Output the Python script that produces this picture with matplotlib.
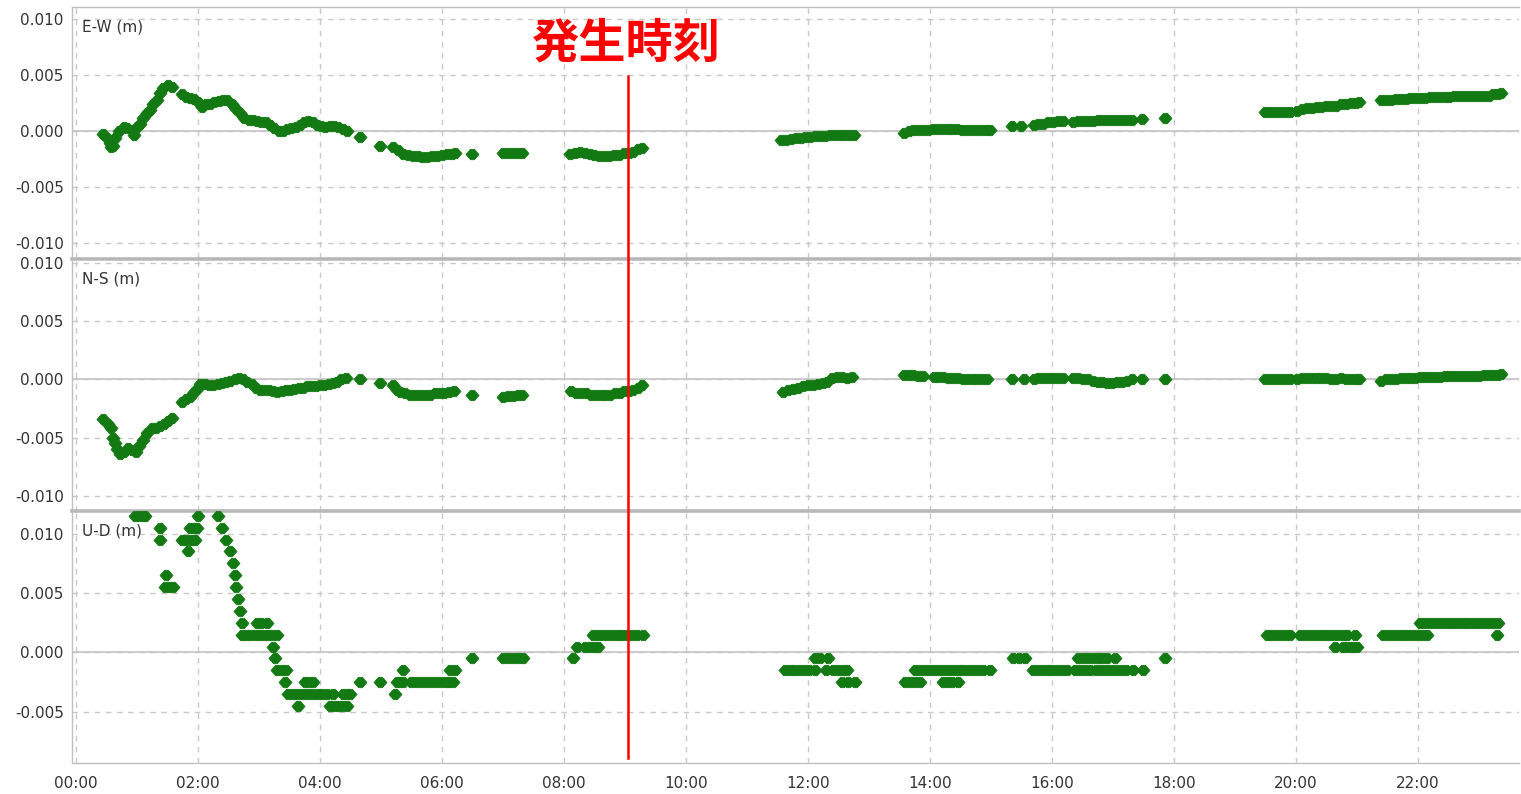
import numpy as np
import matplotlib
matplotlib.use("Agg")
import matplotlib.pyplot as plt
from matplotlib.lines import Line2D
from matplotlib.path import Path
from matplotlib.transforms import blended_transform_factory

# time in hours, displacement in mm (converted to m when plotted)
ew_data = [
    (0.44, -0.2), (0.50, -0.6), (0.56, -1.0), (0.58, -1.4), (0.61, -1.3), (0.64, -0.6),
    (0.70, 0.0), (0.78, 0.4), (0.84, 0.3), (0.91, 0.1), (0.95, -0.3), (1.00, 0.4),
    (1.05, 0.7), (1.10, 1.2), (1.16, 1.6), (1.21, 1.9), (1.27, 2.4), (1.33, 2.8),
    (1.38, 3.4), (1.43, 3.9), (1.50, 4.1), (1.57, 4.0),
    (1.74, 3.3), (1.80, 3.1), (1.87, 3.0), (1.93, 2.9), (2.00, 2.6), (2.06, 2.2),
    (2.13, 2.4), (2.20, 2.4), (2.27, 2.6), (2.34, 2.7), (2.41, 2.8), (2.48, 2.8),
    (2.55, 2.4), (2.62, 2.0), (2.69, 1.6), (2.76, 1.2), (2.83, 1.0), (2.90, 1.0),
    (2.97, 0.9), (3.04, 0.8), (3.11, 0.8), (3.18, 0.6), (3.25, 0.3), (3.32, 0.0),
    (3.39, 0.0), (3.46, 0.2), (3.53, 0.3), (3.60, 0.4), (3.67, 0.6), (3.74, 0.8),
    (3.81, 0.9), (3.88, 0.8), (3.95, 0.6), (4.02, 0.5), (4.09, 0.4), (4.16, 0.5),
    (4.23, 0.5), (4.30, 0.4), (4.37, 0.2), (4.44, 0.0),
    (4.66, -0.5), (4.98, -1.3),
    (5.20, -1.4), (5.28, -1.7), (5.36, -2.0), (5.44, -2.1), (5.52, -2.2), (5.60, -2.2),
    (5.68, -2.3), (5.76, -2.3), (5.84, -2.2), (5.92, -2.2), (6.00, -2.1), (6.08, -2.0),
    (6.16, -2.0), (6.21, -1.9),
    (6.49, -2.0),
    (7.00, -1.9), (7.08, -1.9), (7.16, -1.9), (7.24, -1.9), (7.32, -1.9),
    (8.10, -2.0), (8.18, -1.9), (8.26, -1.8), (8.34, -1.9), (8.42, -2.0), (8.50, -2.1),
    (8.58, -2.2), (8.66, -2.2), (8.74, -2.2), (8.82, -2.1), (8.90, -2.1), (8.98, -1.9),
    (9.06, -1.9), (9.14, -1.8), (9.22, -1.6), (9.28, -1.5),
    (11.56, -0.8), (11.64, -0.8), (11.72, -0.7), (11.80, -0.6), (11.88, -0.6), (11.96, -0.5),
    (12.04, -0.5), (12.12, -0.4), (12.20, -0.4), (12.28, -0.4), (12.36, -0.3), (12.44, -0.3),
    (12.52, -0.3), (12.60, -0.3), (12.68, -0.3), (12.76, -0.3),
    (13.57, -0.1), (13.65, 0.0), (13.73, 0.1), (13.81, 0.1), (13.89, 0.1), (13.97, 0.1),
    (14.05, 0.2), (14.13, 0.2), (14.21, 0.2), (14.29, 0.2), (14.37, 0.2), (14.45, 0.2),
    (14.53, 0.1), (14.61, 0.1), (14.69, 0.1), (14.77, 0.1), (14.85, 0.1), (14.93, 0.1),
    (14.98, 0.1),
    (15.35, 0.5), (15.50, 0.5),
    (15.70, 0.6), (15.78, 0.7), (15.86, 0.7), (15.94, 0.8), (16.02, 0.8), (16.10, 0.9),
    (16.18, 0.9),
    (16.35, 0.8), (16.43, 0.9), (16.51, 0.9), (16.59, 0.9), (16.67, 0.9), (16.75, 1.0),
    (16.83, 1.0), (16.91, 1.0), (16.99, 1.0), (17.07, 1.0), (17.15, 1.0), (17.23, 1.0),
    (17.31, 1.0),
    (17.48, 1.1), (17.85, 1.15),
    (19.50, 1.7), (19.58, 1.7), (19.66, 1.7), (19.74, 1.7), (19.82, 1.7), (19.90, 1.7),
    (20.02, 1.8), (20.10, 2.0), (20.18, 2.1), (20.26, 2.1), (20.34, 2.2), (20.42, 2.2),
    (20.50, 2.3), (20.58, 2.3), (20.66, 2.3), (20.74, 2.4), (20.82, 2.4), (20.90, 2.5),
    (20.98, 2.5), (21.03, 2.6),
    (21.40, 2.8), (21.48, 2.8), (21.56, 2.8), (21.64, 2.9), (21.72, 2.9), (21.80, 2.9),
    (21.88, 3.0), (21.96, 3.0), (22.04, 3.0), (22.12, 3.0), (22.20, 3.1), (22.28, 3.1),
    (22.36, 3.1), (22.44, 3.1), (22.52, 3.1), (22.60, 3.2), (22.68, 3.2), (22.76, 3.2),
    (22.84, 3.2), (22.92, 3.2), (23.00, 3.2), (23.08, 3.2), (23.16, 3.2), (23.24, 3.3),
    (23.32, 3.3), (23.37, 3.4),
]

ns_data = [
    (0.45, -3.4), (0.52, -3.8), (0.58, -4.2), (0.61, -5.0), (0.64, -5.5), (0.68, -6.0),
    (0.72, -6.4), (0.79, -6.2), (0.86, -5.9), (0.92, -6.1), (0.99, -6.2), (1.04, -5.7),
    (1.10, -5.2), (1.17, -4.6), (1.24, -4.2), (1.31, -4.2), (1.38, -4.0), (1.45, -3.8),
    (1.51, -3.6), (1.57, -3.3),
    (1.73, -1.9), (1.80, -1.7), (1.87, -1.5), (1.93, -1.1), (1.98, -0.8), (2.04, -0.4),
    (2.11, -0.4), (2.18, -0.5), (2.25, -0.5), (2.32, -0.4), (2.39, -0.3), (2.46, -0.2),
    (2.53, -0.1), (2.60, 0.0), (2.67, 0.1), (2.74, 0.0), (2.81, -0.2), (2.88, -0.4),
    (2.95, -0.7), (3.02, -0.9), (3.09, -0.9), (3.16, -0.9), (3.23, -1.0), (3.30, -1.1),
    (3.37, -1.0), (3.44, -0.9), (3.51, -0.9), (3.58, -0.8), (3.65, -0.7), (3.72, -0.7),
    (3.79, -0.6), (3.86, -0.6), (3.93, -0.6), (4.00, -0.5), (4.07, -0.5), (4.14, -0.4),
    (4.21, -0.3), (4.28, -0.2), (4.35, 0.0), (4.42, 0.1),
    (4.66, 0.0), (4.98, -0.3),
    (5.20, -0.5), (5.26, -0.9), (5.32, -1.1), (5.40, -1.2), (5.48, -1.3), (5.56, -1.3),
    (5.64, -1.3), (5.72, -1.3), (5.80, -1.3), (5.88, -1.2), (5.96, -1.2), (6.04, -1.2),
    (6.12, -1.1), (6.20, -1.0),
    (6.49, -1.35),
    (7.00, -1.5), (7.08, -1.4), (7.16, -1.4), (7.24, -1.3), (7.32, -1.3),
    (8.12, -1.0), (8.20, -1.2), (8.28, -1.2), (8.36, -1.2), (8.44, -1.3), (8.52, -1.3),
    (8.60, -1.3), (8.68, -1.3), (8.76, -1.3), (8.84, -1.2), (8.92, -1.2), (8.98, -1.0),
    (9.06, -1.0), (9.14, -0.9), (9.22, -0.7), (9.28, -0.5),
    (11.60, -1.1), (11.68, -0.9), (11.76, -0.8), (11.84, -0.7), (11.92, -0.6), (12.00, -0.5),
    (12.08, -0.5), (12.16, -0.4), (12.24, -0.3), (12.32, -0.2), (12.40, 0.1), (12.48, 0.2),
    (12.56, 0.2), (12.64, 0.1), (12.72, 0.2),
    (13.57, 0.4), (13.65, 0.4), (13.73, 0.4), (13.81, 0.3), (13.89, 0.3),
    (14.06, 0.2), (14.14, 0.2), (14.22, 0.2), (14.30, 0.1), (14.38, 0.1), (14.46, 0.1),
    (14.54, 0.0), (14.62, 0.0), (14.70, 0.0), (14.78, 0.0), (14.86, 0.0), (14.94, 0.0),
    (15.35, 0.0), (15.55, 0.0),
    (15.70, 0.0), (15.78, 0.1), (15.86, 0.1), (15.94, 0.1), (16.02, 0.1), (16.10, 0.1),
    (16.18, 0.1),
    (16.35, 0.1), (16.43, 0.1), (16.51, 0.0), (16.59, 0.0), (16.67, -0.1), (16.75, -0.2),
    (16.83, -0.2), (16.91, -0.3), (16.99, -0.3), (17.07, -0.2), (17.15, -0.2), (17.23, -0.1),
    (17.31, 0.0),
    (17.48, 0.0), (17.85, 0.0),
    (19.50, 0.0), (19.58, 0.0), (19.66, 0.0), (19.74, 0.0), (19.82, 0.0), (19.90, 0.0),
    (20.02, 0.0), (20.10, 0.1), (20.18, 0.1), (20.26, 0.1), (20.34, 0.1), (20.42, 0.1),
    (20.50, 0.1), (20.58, 0.0), (20.66, 0.0), (20.74, 0.1), (20.82, 0.0), (20.90, 0.0),
    (20.98, 0.0), (21.03, 0.0),
    (21.40, -0.1), (21.48, 0.0), (21.56, 0.0), (21.64, 0.0), (21.72, 0.1), (21.80, 0.1),
    (21.88, 0.1), (21.96, 0.1), (22.04, 0.2), (22.12, 0.2), (22.20, 0.2), (22.28, 0.2),
    (22.36, 0.2), (22.44, 0.3), (22.52, 0.3), (22.60, 0.3), (22.68, 0.3), (22.76, 0.3),
    (22.84, 0.3), (22.92, 0.3), (23.00, 0.3), (23.08, 0.4), (23.16, 0.4), (23.24, 0.4),
    (23.32, 0.4), (23.37, 0.5),
]

ud_data = [
    (0.97, 11.5), (1.03, 11.5), (1.09, 11.5), (1.13, 11.5),
    (1.37, 10.5), (1.37, 9.5), (1.48, 6.5), (1.46, 5.5), (1.52, 5.5), (1.59, 5.5),
    (1.73, 9.5), (1.79, 9.5), (1.85, 9.5), (1.91, 9.5), (1.95, 9.5), (1.84, 8.5),
    (1.87, 10.5), (1.93, 10.5), (1.98, 10.5), (2.00, 11.5),
    (2.33, 11.5), (2.39, 10.5), (2.46, 9.5), (2.52, 8.5), (2.57, 7.5), (2.60, 6.5),
    (2.62, 5.5), (2.66, 4.5), (2.69, 3.5), (2.72, 2.5),
    (2.72, 1.5), (2.79, 1.5), (2.86, 1.5), (2.93, 1.5), (3.00, 1.5), (3.07, 1.5),
    (3.14, 1.5), (3.21, 1.5), (3.29, 1.5),
    (2.96, 2.5), (3.04, 2.5), (3.13, 2.5),
    (3.23, 0.5), (3.26, -0.5), (3.29, -1.5), (3.37, -1.5), (3.45, -1.5), (3.43, -2.5),
    (3.48, -3.5), (3.56, -3.5), (3.64, -3.5), (3.72, -3.5), (3.80, -3.5), (3.88, -3.5),
    (3.96, -3.5), (4.04, -3.5), (4.12, -3.5), (4.21, -3.5),
    (3.64, -4.5), (3.75, -2.5), (3.82, -2.5), (3.89, -2.5),
    (4.16, -4.5), (4.23, -4.5), (4.30, -4.5), (4.37, -4.5), (4.44, -4.5),
    (4.38, -3.5), (4.44, -3.5), (4.49, -3.5),
    (4.66, -2.5), (4.98, -2.5),
    (5.23, -3.5), (5.26, -2.5), (5.31, -2.5), (5.36, -2.5), (5.36, -1.5),
    (5.50, -2.5), (5.58, -2.5), (5.66, -2.5), (5.74, -2.5), (5.82, -2.5), (5.90, -2.5),
    (5.98, -2.5), (6.06, -2.5), (6.12, -2.5), (6.18, -2.5),
    (6.13, -1.5), (6.21, -1.5),
    (6.49, -0.5),
    (7.00, -0.5), (7.08, -0.5), (7.16, -0.5), (7.24, -0.5), (7.33, -0.5),
    (8.15, -0.5), (8.21, 0.5), (8.34, 0.5), (8.42, 0.5), (8.50, 0.5), (8.56, 0.5),
    (8.48, 1.5), (8.56, 1.5), (8.64, 1.5), (8.72, 1.5), (8.80, 1.5), (8.88, 1.5),
    (8.96, 1.5), (9.04, 1.5), (9.12, 1.5), (9.20, 1.5), (9.30, 1.5),
    (11.62, -1.5), (11.70, -1.5), (11.78, -1.5), (11.86, -1.5), (11.94, -1.5), (12.02, -1.5),
    (12.11, -1.5),
    (12.11, -0.5), (12.20, -0.5), (12.33, -0.5),
    (12.30, -1.5), (12.41, -1.5), (12.49, -1.5), (12.57, -1.5), (12.64, -1.5),
    (12.56, -2.5), (12.66, -2.5), (12.77, -2.5),
    (13.59, -2.5), (13.67, -2.5), (13.75, -2.5), (13.84, -2.5),
    (13.75, -1.5), (13.83, -1.5), (13.91, -1.5), (13.99, -1.5), (14.07, -1.5), (14.15, -1.5),
    (14.23, -1.5), (14.31, -1.5), (14.39, -1.5), (14.47, -1.5), (14.55, -1.5), (14.63, -1.5),
    (14.71, -1.5), (14.79, -1.5), (14.87, -1.5), (14.98, -1.5),
    (14.21, -2.5), (14.29, -2.5), (14.37, -2.5), (14.46, -2.5),
    (15.36, -0.5), (15.46, -0.5), (15.56, -0.5),
    (15.69, -1.5), (15.77, -1.5), (15.85, -1.5), (15.93, -1.5), (16.01, -1.5), (16.09, -1.5),
    (16.17, -1.5), (16.25, -1.5),
    (16.38, -1.5), (16.46, -1.5), (16.55, -1.5), (16.63, -1.5), (16.72, -1.5), (16.80, -1.5),
    (16.88, -1.5), (16.97, -1.5), (17.05, -1.5), (17.13, -1.5), (17.21, -1.5), (17.33, -1.5),
    (16.43, -0.5), (16.51, -0.5), (16.59, -0.5), (16.67, -0.5), (16.75, -0.5), (16.83, -0.5),
    (16.91, -0.5), (17.03, -0.5),
    (17.49, -1.5), (17.85, -0.5),
    (19.52, 1.5), (19.60, 1.5), (19.68, 1.5), (19.76, 1.5), (19.84, 1.5), (19.90, 1.5),
    (20.07, 1.5), (20.15, 1.5), (20.23, 1.5), (20.31, 1.5), (20.39, 1.5), (20.47, 1.5),
    (20.55, 1.5), (20.63, 1.5), (20.71, 1.5), (20.79, 1.5), (20.84, 1.5), (20.97, 1.5),
    (20.64, 0.5), (20.77, 0.5), (20.84, 0.5), (20.92, 0.5), (21.00, 0.5),
    (21.43, 1.5), (21.51, 1.5), (21.59, 1.5), (21.67, 1.5), (21.75, 1.5), (21.83, 1.5),
    (21.91, 1.5), (21.99, 1.5), (22.07, 1.5), (22.15, 1.5),
    (22.03, 2.5), (22.11, 2.5), (22.19, 2.5), (22.27, 2.5), (22.35, 2.5), (22.43, 2.5),
    (22.51, 2.5), (22.59, 2.5), (22.67, 2.5), (22.75, 2.5), (22.83, 2.5), (22.91, 2.5),
    (22.99, 2.5), (23.07, 2.5), (23.15, 2.5), (23.23, 2.5), (23.31, 2.5),
    (23.30, 1.5),
]

panel_labels = ["E-W (m)", "N-S (m)", "U-D (m)"]
xtick_hours = [0, 2, 4, 6, 8, 10, 12, 14, 16, 18, 20, 22]
xtick_labels = ["00:00", "02:00", "04:00", "06:00", "08:00", "10:00",
                "12:00", "14:00", "16:00", "18:00", "20:00", "22:00"]
event_hour = 9.05
event_label = "発生時刻"

W, H = 1521, 794
fig = plt.figure(figsize=(W / 100, H / 100), dpi=100)

left = 72 / W
width = 1519 / W - left
# (top px, bottom px, ylim, yticks)
panels = [
    (7, 258, (-0.0113, 0.0111), [-0.010, -0.005, 0.0, 0.005, 0.010]),
    (259, 511, (-0.0113, 0.01035), [-0.010, -0.005, 0.0, 0.005, 0.010]),
    (511, 763, (-0.0093, 0.0119), [-0.005, 0.0, 0.005, 0.010]),
]
series = [ew_data, ns_data, ud_data]

# slightly wide diamond, like the original plotting tool
wide_diamond = Path([(-1.0, 0.0), (-0.3, 0.8), (0.3, 0.8), (1.0, 0.0),
                     (0.3, -0.8), (-0.3, -0.8), (-1.0, 0.0)], closed=True)

green = "#137a13"
grid_col = "#c9c9c9"
axes = []
for i, (top, bot, ylim, yt) in enumerate(panels):
    ax = fig.add_axes([left, 1 - bot / H, width, (bot - top) / H])
    t = np.array([p[0] for p in series[i]])
    v = np.array([p[1] for p in series[i]]) / 1000.0
    ax.plot(t, v, ls="none", marker=wide_diamond, ms=9.3, color=green, mec=green,
            mew=0.6, zorder=3)

    ax.set_xlim(-0.066, 23.66)
    ax.set_ylim(*ylim)
    ax.set_xticks(xtick_hours)
    ax.set_yticks(yt)
    ax.set_yticklabels(["%.3f" % y for y in yt])
    ax.grid(True, color=grid_col, linestyle=(0, (4, 4)), linewidth=1)
    ax.axhline(0, color="#c4c4c4", lw=1.2, zorder=1)
    ax.set_axisbelow(True)

    ax.tick_params(length=0, labelsize=11, colors="#333333", pad=6)
    if i < 2:
        ax.set_xticklabels([])
    else:
        ax.set_xticklabels(xtick_labels)
        ax.tick_params(axis="x", pad=9)

    for s in ["left", "bottom", "right", "top"]:
        ax.spines[s].set_color("#c0c0c0")
        ax.spines[s].set_linewidth(1)
    ax.spines["right"].set_visible(False)
    if i > 0:
        ax.spines["top"].set_linewidth(2.6)
        ax.spines["top"].set_color("#b8b8b8")

    ax.text(0.007, 0.95, panel_labels[i], transform=ax.transAxes, ha="left", va="top",
            fontsize=11, color="#333333")
    axes.append(ax)

# event line across all panels
trans = blended_transform_factory(axes[2].transData, fig.transFigure)
fig.add_artist(Line2D([event_hour, event_hour], [1 - 76 / H, 1 - 758 / H],
                      transform=trans, color="#ff0000", lw=1.8, zorder=10))
fig.text(626 / W, 1 - 43 / H, event_label, ha="center", va="center", color="#ff0000",
         fontsize=34, fontweight="bold", family=["Noto Sans CJK JP", "DejaVu Sans"])

fig.savefig("out.png", dpi=100)
